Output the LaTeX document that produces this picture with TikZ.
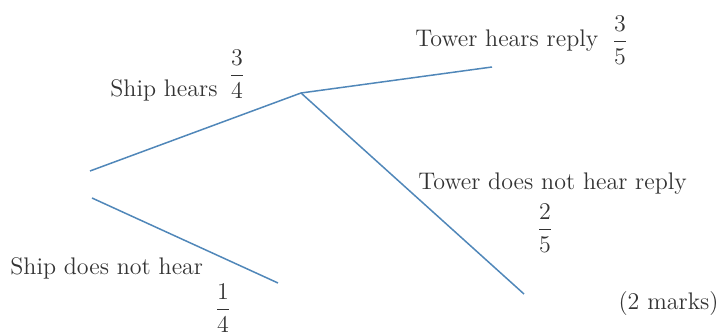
\documentclass[tikz,border=0pt]{standalone}
\usepackage{amsmath}
\definecolor{branchblue}{RGB}{80,135,185}
\begin{document}
\begin{tikzpicture}[x=0.5pt,y=-0.5pt,
  branch/.style={draw=branchblue, line width=0.75pt},
  lbl/.style={inner sep=0pt, text=black!80, font=\fontsize{12}{14}\selectfont}]
\useasboundingbox (0,0) rectangle (719,336);
\coordinate (S) at (90,171);
\coordinate (N) at (92,198);
\coordinate (H) at (301,93);
\coordinate (D) at (278,283);
\coordinate (T) at (492,67);
\coordinate (F) at (524,294);
% branches
\draw[branch] (S) -- (H);
\draw[branch] (N) -- (D);
\draw[branch] (H) -- (T);
\draw[branch] (H) -- (F);
% labels
\node[lbl, anchor=base west] (hears) at (110,97) {Ship hears};
\node[lbl] (hearsp) at (237,74) {$\dfrac{3}{4}$};
\node[lbl, anchor=base west] (nothear) at (10,275) {Ship does not hear};
\node[lbl] (nothearp) at (223,308) {$\dfrac{1}{4}$};
\node[lbl, anchor=base west] (reply) at (415,47) {Tower hears reply};
\node[lbl] (replyp) at (620,40) {$\dfrac{3}{5}$};
\node[lbl, anchor=base west] (noreply) at (418,190) {Tower does not hear reply};
\node[lbl] (noreplyp) at (545,228) {$\dfrac{2}{5}$};
\node[lbl, anchor=base east] (marks) at (719,310) {(2 marks)};
\end{tikzpicture}
\end{document}
